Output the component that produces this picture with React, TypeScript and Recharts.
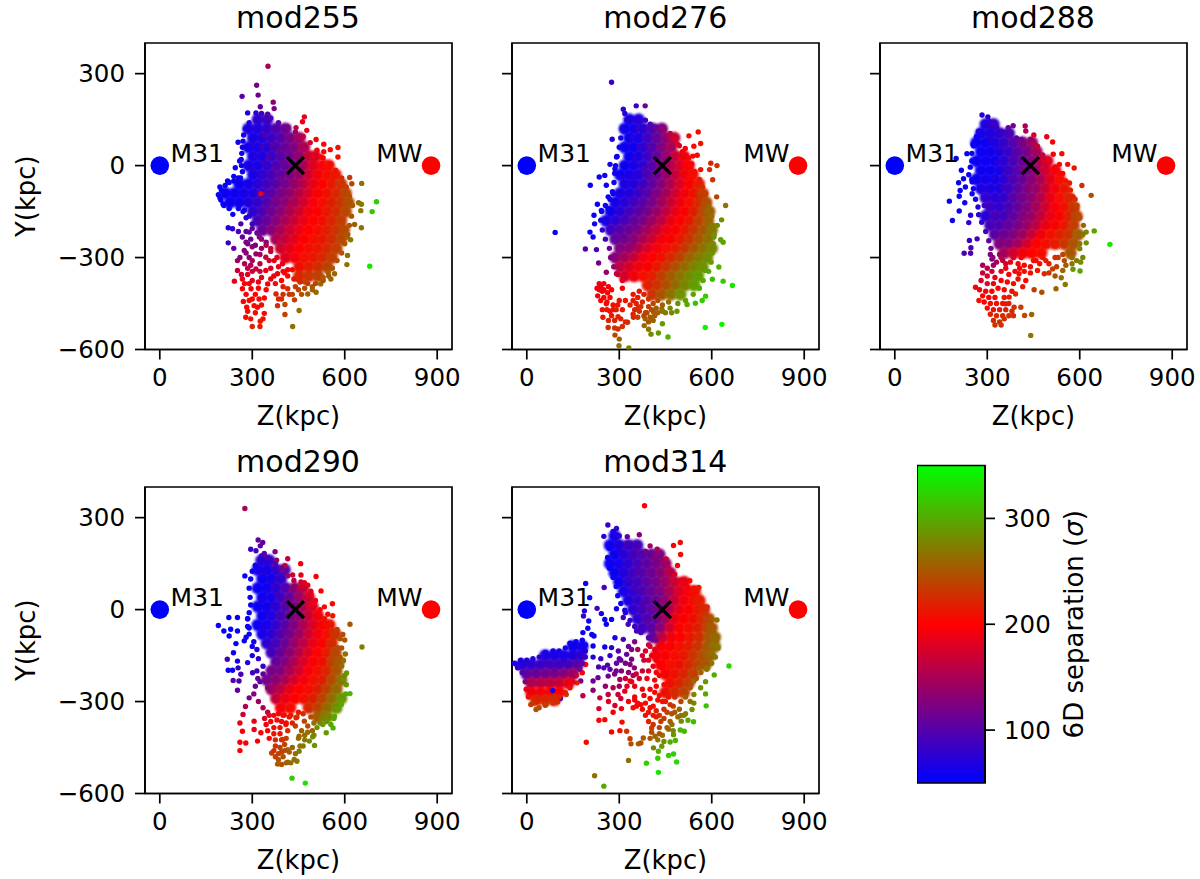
import { Label, ReferenceArea, Scatter, ScatterChart, XAxis, YAxis } from "recharts";

type Row = number[];

const xTicks = [0, 300, 600, 900];
const yTicks = [300, 0, -300, -600];
const sepTicks = [100, 200, 300];
const sepRange = [{ x: 0, sep: 50 }, { x: 1, sep: 350 }];

const m31 = [{ z: 0, y: 0 }];
const mw = [{ z: 880, y: 0 }];
const midpoint = [{ z: 440, y: 0 }];
const m31Label = [{ z: 35, y: 11, text: "M31" }];
const mwLabel = [{ z: 702, y: 11, text: "MW" }];

// dense middle of each cloud, [z, y, separation]
const mod255Core: Row[] = [
  [318,150,75],[348,150,85],
  [288,120,66],[318,120,70],[348,120,80],[378,120,95],[408,120,112],
  [303,90,64],[333,90,70],[363,90,84],[393,90,100],[423,90,120],[453,90,145],
  [288,60,62],[318,60,65],[348,60,76],[378,60,92],[408,60,108],[438,60,125],[468,60,150],
  [303,30,62],[333,30,68],[363,30,82],[393,30,100],[423,30,115],[453,30,135],[483,30,165],[505,30,180],
  [288,0,62],[318,0,65],[348,0,78],[378,0,92],[408,0,108],[438,0,125],[468,0,150],[498,0,180],[528,0,195],[548,0,205],
  [303,-30,64],[333,-30,72],[363,-30,88],[393,-30,105],[423,-30,120],[453,-30,140],[483,-30,170],[513,-30,192],[543,-30,205],[570,-30,212],
  [258,-60,58],[288,-60,62],[318,-60,70],[348,-60,85],[378,-60,102],[408,-60,118],[438,-60,135],[468,-60,160],[498,-60,185],[528,-60,200],[558,-60,212],[588,-60,228],
  [213,-90,58],[243,-90,58],[273,-90,62],[303,-90,70],[333,-90,84],[363,-90,100],[393,-90,118],[423,-90,135],[453,-90,155],[483,-90,178],[513,-90,197],[543,-90,208],[573,-90,222],[603,-90,240],
  [228,-120,58],[258,-120,60],[288,-120,68],[318,-120,80],[348,-120,96],[378,-120,115],[408,-120,132],[438,-120,150],[468,-120,172],[498,-120,195],[528,-120,205],[558,-120,218],[588,-120,232],[612,-120,245],
  [303,-150,76],[333,-150,92],[363,-150,112],[393,-150,130],[423,-150,150],[453,-150,170],[483,-150,192],[513,-150,202],[543,-150,212],[573,-150,226],[603,-150,242],
  [318,-180,92],[348,-180,108],[378,-180,128],[408,-180,148],[438,-180,168],[468,-180,188],[498,-180,200],[528,-180,208],[558,-180,220],[588,-180,234],
  [333,-210,108],[363,-210,128],[393,-210,148],[423,-210,168],[453,-210,188],[483,-210,200],[513,-210,206],[543,-210,216],[573,-210,230],[597,-210,242],
  [378,-240,150],[408,-240,165],[438,-240,183],[468,-240,198],[498,-240,204],[528,-240,214],[558,-240,226],[588,-240,240],
  [393,-270,170],[423,-270,183],[453,-270,198],[483,-270,205],[513,-270,212],[543,-270,222],[573,-270,236],
  [408,-300,182],[438,-300,195],[468,-300,204],[498,-300,212],[528,-300,222],[558,-300,236],
  [453,-330,208],[483,-330,215],[513,-330,225],[543,-330,238],
  [453,-360,222],[483,-360,228],[513,-360,238],
];

const mod255Stars: Row[] = [
  [351,324,150],[314,262,120],[319,230,115],[267,226,100],[368,207,130],[371,186,125],[326,192,110],[285,172,65],[312,172,80],[350,168,100],
  [469,159,185],[463,143,185],[442,124,165],[477,115,185],[507,85,195],[532,70,200],[553,52,205],[578,59,210],[578,28,210],[532,45,200],[524,28,200],
  [254,76,58],[259,15,60],[245,-7,55],[616,-39,235],[623,-59,240],[655,-58,265],[645,-121,265],[654,-126,270],[703,-118,320],[689,-150,315],[652,-147,270],
  [632,-192,255],[654,-203,265],[619,-242,270],[608,-233,260],[609,-293,265],[607,-323,265],[681,-328,335],[222,-203,70],[236,-206,75],[222,-252,85],[237,-159,55],[208,-130,55],
  [242,-377,185],[268,-370,190],[271,-443,195],[282,-462,200],[279,-495,205],[300,-525,220],[325,-525,215],[326,-508,215],[306,-457,205],[322,-435,205],[339,-432,200],[317,-462,205],[339,-482,205],
  [377,-419,220],[382,-457,225],[406,-453,240],[406,-486,235],[431,-525,265],[452,-473,265],[415,-402,225],[437,-438,235],[480,-419,255],[507,-413,260],[522,-386,260],[546,-348,255],[567,-353,260],
  [268,-402,200],[296,-402,195],[350,-386,195],[252,-310,140],[252,-342,165],[312,-337,165],[312,-288,140],[274,-277,130],[268,-233,110],[290,-217,110],[263,-190,100],[323,-233,125],[344,-299,170],[344,-342,185],[371,-310,185],[382,-353,190],
  [280,-250,120],[300,-265,128],[290,-300,135],[330,-270,140],[345,-250,135],[275,-320,150],[300,-310,150],[360,-270,165],[405,-350,205],[430,-340,205],[470,-380,240],[495,-395,250],[445,-370,225],
  [195,-70,55],[190,-95,55],[198,-112,55],[220,-50,55],[240,-35,55],[255,-40,60],[270,-150,62],[280,-170,75],[300,-190,85],
  [290,140,70],[278,120,66],[272,100,62],[270,80,60],[268,60,60],[266,40,60],[264,20,60],[265,0,60],[268,-20,60],[262,-40,58],[240,-50,58],[225,-55,56],[212,-65,56],[200,-80,56],[195,-105,55],[205,-125,55],[225,-140,55],[255,-140,58],[275,-145,65],[290,-165,72],
  [330,170,85],[360,155,95],[385,140,105],[415,125,125],[440,110,140],[465,95,160],[488,75,175],[510,50,190],[530,25,198],[555,5,208],[570,-15,212],[590,-40,225],[605,-70,235],[615,-100,245],[625,-130,250],[622,-165,250],[615,-195,248],[610,-225,250],[600,-255,250],[590,-285,250],[575,-310,245],[560,-335,250],[548,-360,250],[530,-375,245],[505,-385,240],[480,-385,232],[455,-380,222],[435,-370,215],
  [415,-340,195],[398,-320,190],[380,-300,178],[360,-280,165],[345,-260,150],[330,-240,135],[315,-220,115],[300,-205,105],
  [285,-355,175],[300,-345,170],[330,-365,185],[360,-370,190],[395,-375,200],[275,-385,195],[290,-385,195],[320,-400,200],[345,-405,200],[290,-440,205],[310,-480,205],[330,-455,205],[395,-435,225],[420,-420,230],[450,-405,240],[470,-400,245],[495,-405,255],[530,-365,255],[555,-370,260],[240,-270,105],[260,-300,130],[285,-255,120],[255,-215,95],
  [340,100,95],[365,70,105],[330,60,85],[355,30,95],[385,50,110],[340,10,85],[370,-10,105],[400,10,115],[330,-30,85],[360,-50,100],[395,-40,118],[345,-90,100],[375,-110,125],[405,-85,130],[430,-50,140],[320,-60,80],[300,-10,75],[310,30,75],[300,70,75],[350,-140,115],[420,-130,155],[455,-60,150],[460,-10,140],[415,50,120],[445,35,135],[328,-92,185],
  [280,-215,105],[295,-240,115],[310,-260,125],[325,-290,145],[280,-285,130],[295,-325,150],[325,-320,160],[355,-310,175],[360,-335,180],[325,-345,170],[285,-335,160],[265,-355,170],[300,-375,185],[320,-380,190],[370,-360,190],[385,-330,185],[400,-345,200],[415,-360,205],[375,-385,205],[400,-395,215],[280,-420,195],[300,-435,205],[310,-420,200],[285,-475,205],[295,-500,210],[335,-500,210],[385,-435,225],[400,-420,228],[440,-395,235],[460,-420,245],[430,-420,240],
];

const mod276Core: Row[] = [
  [333,150,62],[363,150,72],
  [318,120,60],[348,120,64],[378,120,76],[408,120,95],[438,120,125],
  [333,90,60],[363,90,66],[393,90,85],[423,90,108],[453,90,135],[478,90,165],
  [318,60,58],[348,60,60],[378,60,74],[408,60,95],[438,60,118],[468,60,148],
  [333,30,60],[363,30,66],[393,30,85],[423,30,108],[453,30,135],[483,30,165],[510,30,190],
  [318,0,60],[348,0,62],[378,0,76],[408,0,98],[438,0,125],[468,0,150],[498,0,178],[525,0,198],
  [303,-30,60],[333,-30,62],[363,-30,70],[393,-30,90],[423,-30,112],[453,-30,138],[483,-30,165],[513,-30,190],[538,-30,205],
  [318,-60,64],[348,-60,68],[378,-60,84],[408,-60,105],[438,-60,128],[468,-60,152],[498,-60,178],[528,-60,198],[558,-60,215],
  [303,-90,66],[333,-90,70],[363,-90,82],[393,-90,100],[423,-90,122],[453,-90,145],[483,-90,172],[513,-90,195],[543,-90,210],[570,-90,235],
  [288,-120,62],[318,-120,72],[348,-120,85],[378,-120,100],[408,-120,118],[438,-120,140],[468,-120,165],[498,-120,190],[528,-120,205],[558,-120,225],[582,-120,245],
  [273,-150,60],[303,-150,72],[333,-150,88],[363,-150,102],[393,-150,118],[423,-150,138],[453,-150,160],[483,-150,185],[513,-150,202],[543,-150,218],[573,-150,240],[592,-150,255],
  [258,-180,65],[288,-180,76],[318,-180,92],[348,-180,106],[378,-180,120],[408,-180,140],[438,-180,160],[468,-180,185],[498,-180,200],[528,-180,214],[558,-180,235],[588,-180,255],
  [273,-210,85],[303,-210,100],[333,-210,112],[363,-210,125],[393,-210,145],[423,-210,165],[453,-210,188],[483,-210,202],[513,-210,212],[543,-210,232],[573,-210,250],[600,-210,268],
  [288,-240,105],[318,-240,115],[348,-240,128],[378,-240,148],[408,-240,170],[438,-240,192],[468,-240,203],[498,-240,212],[528,-240,230],[558,-240,248],[588,-240,265],
  [303,-270,125],[333,-270,135],[363,-270,155],[393,-270,178],[423,-270,196],[453,-270,204],[483,-270,215],[513,-270,232],[543,-270,250],[573,-270,265],[600,-270,278],
  [288,-300,130],[318,-300,145],[348,-300,165],[378,-300,188],[408,-300,200],[438,-300,208],[468,-300,222],[498,-300,238],[528,-300,255],[558,-300,270],[585,-300,282],
  [303,-330,160],[333,-330,175],[363,-330,192],[393,-330,203],[423,-330,212],[453,-330,228],[483,-330,245],[513,-330,262],[543,-330,275],[570,-330,285],
  [318,-360,175],[348,-360,192],[378,-360,205],[408,-360,216],[438,-360,235],[468,-360,252],[498,-360,268],[528,-360,280],[555,-360,292],
  [393,-390,215],[423,-390,228],[453,-390,245],[483,-390,262],[513,-390,278],[543,-390,292],
  [408,-420,228],[438,-420,248],[468,-420,265],[498,-420,285],
];

const mod276Stars: Row[] = [
  [275,272,85],[355,195,85],[384,195,115],[313,184,78],[318,170,70],[277,86,70],[291,28,60],[270,4,62],[286,-10,60],[235,-37,62],[253,-32,60],[206,-64,55],[258,-64,58],[264,-102,58],[280,-92,58],
  [229,-126,55],[242,-146,55],[264,-141,60],[218,-162,55],[220,-190,60],[205,-217,54],[215,-233,58],[92,-218,60],[190,-272,100],[226,-274,90],[233,-318,120],[258,-348,140],[291,-353,160],
  [526,97,205],[556,110,205],[564,72,210],[542,63,205],[514,56,195],[490,69,180],[476,94,170],[553,34,205],[539,31,205],[564,-13,210],[542,-19,205],[597,8,220],[617,0,230],[593,-13,225],[603,-46,230],
  [580,-92,230],[616,-102,240],[583,-116,245],[645,-130,265],[589,-144,260],[585,-159,255],[632,-177,285],[618,-195,280],[607,-233,285],[629,-242,295],[637,-250,295],[600,-260,280],[623,-331,305],
  [580,-342,290],[602,-371,310],[637,-377,320],[667,-391,335],[580,-426,320],[547,-449,315],[569,-440,320],[520,-453,300],[579,-528,345],[633,-518,345],
  [440,-516,290],[403,-550,280],[427,-546,290],[458,-559,305],[395,-534,270],[384,-500,260],[381,-522,260],[411,-478,255],[438,-468,270],[487,-475,290],[286,-553,240],[300,-566,255],[299,-588,265],[331,-595,275],
  [296,-533,230],[264,-528,225],[327,-511,225],[346,-495,225],[247,-495,215],[275,-490,215],[296,-493,220],[258,-451,210],[362,-462,225],[280,-470,212],[240,-440,205],[235,-405,195],[310,-400,195],[320,-440,212],[390,-480,245],
  [325,148,70],[345,152,70],[365,150,72],[385,148,85],[400,135,95],[420,125,110],[445,118,140],[465,105,160],[480,85,175],[495,65,180],[505,45,190],[525,25,198],[535,5,205],[545,-20,208],[560,-45,215],[570,-70,225],[578,-95,235],[590,-130,255],[600,-165,265],[605,-195,275],[608,-225,285],[605,-255,285],[602,-285,285],[598,-315,290],[590,-345,300],[572,-375,300],[560,-400,300],[540,-420,295],[515,-440,295],[490,-450,285],[465,-465,280],[440,-475,265],[415,-490,255],[385,-480,240],
  [310,120,65],[305,90,62],[300,60,60],[293,30,58],[288,0,58],[285,-25,58],[283,-55,60],[278,-85,60],[270,-110,60],[255,-130,58],[243,-150,58],[240,-178,62],[245,-210,75],[255,-240,90],[268,-270,110],[272,-300,125],[282,-330,145],[295,-355,165],[310,-375,180],
  [235,-385,190],[250,-385,192],[265,-395,195],[228,-400,192],[245,-410,198],[262,-415,200],[230,-425,195],[250,-430,202],[270,-430,205],[260,-445,205],[280,-455,208],[245,-470,210],[270,-475,212],[290,-470,215],[300,-440,210],[285,-505,218],[345,-420,210],[365,-410,212],[345,-440,215],[360,-430,215],[375,-445,222],[335,-455,218],[350,-470,222],[380,-420,218],[395,-435,230],[410,-450,240],[425,-440,245],[440,-455,255],[460,-445,265],[395,-460,235],[345,-485,222],[365,-475,228],
  [340,90,75],[365,60,85],[350,20,75],[380,-10,95],[345,-40,75],[370,-80,95],[400,-40,105],[420,20,120],[400,60,105],[440,60,130],[340,-110,90],[375,-140,110],[410,-100,125],[320,-170,85],[355,-200,118],[395,-190,140],[310,-230,112],[345,-260,135],[440,-110,150],[330,-60,75],[310,-40,72],[360,120,80],
  [250,-405,195],[275,-405,198],[240,-395,190],[260,-470,210],[295,-455,212],[310,-470,215],[305,-500,220],[320,-510,222],[265,-505,220],[285,-530,228],[310,-525,225],[355,-450,220],[370,-460,228],[380,-490,240],[360,-495,235],[405,-470,245],[420,-465,250],[425,-480,255],[450,-480,272],[470,-480,280],[395,-510,250],[410,-505,258],[400,-495,250],
];

const mod288Core: Row[] = [
  [295,135,70],[320,135,80],
  [280,105,62],[310,105,68],[340,105,76],[370,105,90],
  [265,75,58],[295,75,60],[325,75,68],[355,75,82],[385,75,98],[415,75,118],[445,75,145],
  [280,45,55],[310,45,58],[340,45,68],[370,45,84],[400,45,100],[430,45,120],[460,45,145],
  [265,15,58],[295,15,56],[325,15,60],[355,15,76],[385,15,92],[415,15,110],[445,15,128],[475,15,155],[495,15,180],
  [280,-15,60],[310,-15,58],[340,-15,66],[370,-15,84],[400,-15,100],[430,-15,118],[460,-15,140],[490,-15,170],[520,-15,195],
  [265,-45,60],[295,-45,62],[325,-45,60],[355,-45,76],[385,-45,92],[415,-45,110],[445,-45,128],[475,-45,150],[505,-45,182],[535,-45,205],
  [280,-75,65],[310,-75,66],[340,-75,68],[370,-75,86],[400,-75,104],[430,-75,122],[460,-75,140],[490,-75,165],[520,-75,195],[550,-75,212],
  [295,-105,78],[325,-105,72],[355,-105,80],[385,-105,98],[415,-105,115],[445,-105,132],[475,-105,155],[505,-105,185],[535,-105,205],[565,-105,222],
  [310,-135,85],[340,-135,78],[370,-135,90],[400,-135,108],[430,-135,125],[460,-135,145],[490,-135,172],[520,-135,195],[550,-135,205],[580,-135,232],
  [295,-165,75],[325,-165,85],[355,-165,88],[385,-165,105],[415,-165,122],[445,-165,140],[475,-165,162],[505,-165,188],[535,-165,203],[565,-165,220],[590,-165,240],
  [310,-195,90],[340,-195,96],[370,-195,105],[400,-195,120],[430,-195,138],[460,-195,160],[490,-195,185],[520,-195,203],[550,-195,212],[580,-195,235],
  [325,-225,102],[355,-225,112],[385,-225,122],[415,-225,140],[445,-225,165],[475,-225,190],[505,-225,205],[535,-225,215],[565,-225,230],[595,-225,255],
  [340,-255,125],[370,-255,128],[400,-255,145],[430,-255,172],[460,-255,198],[490,-255,206],[520,-255,215],[550,-255,228],[580,-255,248],
  [355,-285,145],[385,-285,168],[415,-285,190],[445,-285,200],[475,-285,205],[570,-285,250],
];

const mod288Stars: Row[] = [
  [283,165,72],[302,159,72],[307,143,78],[322,137,85],[272,112,68],[368,124,105],[384,130,115],[423,129,150],[425,113,150],[451,100,175],[493,94,190],[512,77,195],[463,63,170],[514,37,195],[542,39,205],
  [534,4,200],[561,4,210],[582,-8,215],[545,-26,205],[567,-57,215],[607,-65,225],[578,-102,215],[637,-97,245],[591,-130,240],[647,-213,295],[621,-217,280],[621,-252,285],[698,-257,335],[600,-271,275],
  [603,-315,285],[601,-344,295],[578,-338,290],[540,-366,265],[553,-388,270],[523,-402,255],[477,-413,245],[452,-405,235],[485,-353,225],[463,-342,215],[512,-337,235],[545,-342,260],[444,-486,260],
  [421,-489,245],[409,-462,235],[387,-462,230],[441,-554,270],
  [199,23,60],[234,39,56],[216,-15,55],[223,-43,55],[207,-56,55],[212,-81,55],[251,-53,60],[229,-70,58],[209,-100,55],[251,-92,60],[227,-121,58],[177,-116,55],[209,-148,57],[187,-179,58],[246,-162,70],
  [240,-186,75],[242,-244,85],[267,-239,90],[247,-268,90],[225,-286,95],[246,-286,95],[254,70,55],[262,-397,195],[273,-440,205],[436,-288,200],[458,-310,205],[403,-353,205],[425,-375,205],[392,-419,225],
  [371,-429,220],[360,-451,215],[490,-310,215],[469,-288,205],[520,-300,225],[550,-310,245],[575,-320,270],
  [330,125,85],[350,110,85],[375,100,95],[395,90,105],[410,85,115],[440,85,140],[458,65,160],[480,35,165],[500,15,185],[520,-5,195],[535,-25,205],[555,-50,212],[570,-80,218],[585,-110,225],[590,-140,235],[600,-170,245],[612,-195,260],[610,-225,265],[600,-255,270],
  [265,95,58],[255,65,55],[250,40,55],[250,15,55],[245,-5,55],[240,-30,55],[250,-45,58],[255,-75,60],[262,-110,62],[270,-135,68],[272,-160,72],[282,-185,78],[295,-215,90],[305,-245,105],[312,-270,115],[318,-300,125],
  [315,-305,130],[330,-315,150],[350,-310,165],[375,-315,185],[400,-320,198],[420,-325,205],[440,-330,205],[340,-290,140],[450,-310,205],[410,-300,195],[385,-300,178],[500,-320,215],[525,-330,235],[555,-325,250],[575,-300,260],[590,-310,270],[610,-300,280],
  [285,-325,150],[300,-335,160],[315,-345,175],[285,-350,165],[300,-360,175],[325,-365,185],[345,-345,190],[360,-335,192],[370,-355,195],[390,-345,200],[280,-375,175],[300,-385,185],[320,-385,190],[345,-375,195],[365,-380,200],[385,-385,205],[400,-370,205],[415,-395,215],[275,-405,190],[295,-410,195],[315,-410,200],[335,-400,200],[355,-405,205],[380,-410,210],[285,-425,198],[305,-430,200],[325,-430,205],[355,-430,212],[290,-445,200],[310,-450,205],[330,-450,210],[350,-450,212],[370,-450,215],[300,-465,205],[320,-470,212],[340,-470,215],[360,-470,218],[380,-475,222],[310,-485,218],[330,-490,222],[350,-490,225],[370,-490,225],[320,-505,225],[340,-510,228],[355,-500,228],[325,-520,230],[345,-520,230],[385,-490,228],
  [310,90,72],[340,60,80],[300,40,65],[330,10,72],[360,-10,85],[390,30,100],[420,60,125],[320,-40,72],[350,-70,85],[380,-40,100],[410,-10,118],[340,-110,82],[370,-150,100],[400,-100,118],[440,-60,135],[330,-160,95],[360,-190,110],[420,-170,135],[350,-240,125],[390,-220,130],[450,-130,150],[300,-80,75],[290,-130,85],
  [310,-290,125],[320,-325,145],[360,-320,175],[345,-300,155],[470,-320,210],[480,-300,210],[440,-350,210],[420,-345,205],[405,-335,200],[530,-300,230],[545,-290,240],[520,-360,250],[500,-350,230],
];

const mod290Core: Row[] = [
  [330,160,72],[355,160,78],
  [318,130,62],[348,130,62],[378,130,78],[405,130,105],
  [333,100,58],[363,100,60],[393,100,80],
  [318,70,58],[348,70,58],[378,70,75],[408,70,95],[438,70,130],[465,70,165],
  [333,40,58],[363,40,62],[393,40,85],[423,40,108],[453,40,140],[483,40,170],
  [318,10,60],[348,10,60],[378,10,76],[408,10,100],[438,10,125],[468,10,155],[495,10,180],
  [333,-20,58],[363,-20,65],[393,-20,88],[423,-20,110],[453,-20,135],[483,-20,165],[513,-20,190],
  [318,-50,58],[348,-50,62],[378,-50,78],[408,-50,102],[438,-50,125],[468,-50,150],[498,-50,178],[528,-50,198],[550,-50,210],
  [333,-80,62],[363,-80,72],[393,-80,95],[423,-80,118],[453,-80,140],[483,-80,168],[513,-80,192],[543,-80,205],[570,-80,230],
  [348,-110,76],[378,-110,90],[408,-110,112],[438,-110,135],[468,-110,160],[498,-110,185],[528,-110,202],[558,-110,225],
  [363,-140,88],[393,-140,108],[423,-140,130],[453,-140,155],[483,-140,180],[513,-140,200],[543,-140,215],[570,-140,240],
  [378,-170,105],[408,-170,125],[438,-170,150],[468,-170,178],[498,-170,198],[528,-170,210],[558,-170,235],[580,-170,250],
  [363,-200,118],[393,-200,125],[423,-200,148],[453,-200,172],[483,-200,195],[513,-200,205],[543,-200,222],[573,-200,248],
  [348,-230,118],[378,-230,130],[408,-230,150],[438,-230,175],[468,-230,195],[498,-230,205],[528,-230,218],[558,-230,242],[588,-230,265],
  [363,-260,140],[393,-260,160],[423,-260,185],[453,-260,200],[483,-260,206],[513,-260,218],[543,-260,238],[573,-260,262],
  [378,-290,165],[408,-290,188],[438,-290,202],[468,-290,205],[498,-290,218],[528,-290,238],[558,-290,262],[588,-290,285],
  [393,-320,195],[423,-320,205],[483,-320,222],[513,-320,238],[543,-320,260],[573,-320,282],
  [513,-350,252],[543,-350,278],
];

const mod290Stars: Row[] = [
  [276,330,150],[319,227,110],[334,219,105],[326,208,105],[295,197,85],[312,192,88],[339,183,100],[374,189,125],[379,161,135],[415,166,165],[406,143,155],[457,150,190],[276,110,55],[431,113,170],[458,113,185],
  [507,108,195],[469,88,185],[523,61,200],[491,50,185],[502,23,195],[560,19,205],[534,9,205],[513,-10,195],[545,-15,205],[561,-20,215],[617,-48,250],[556,-64,225],[594,-81,245],[570,-86,230],[600,-99,250],
  [656,-122,275],[602,-145,265],[578,-124,245],[596,-166,265],[606,-207,290],[594,-225,285],[617,-274,310],[589,-310,300],[567,-348,300],[562,-386,305],[540,-402,290],[529,-375,290],
  [190,-52,55],[224,-26,54],[252,-26,55],[208,-70,52],[230,-64,52],[252,-70,52],[225,-86,52],[247,-111,52],[274,-102,55],[239,-141,58],[252,-168,60],[219,-162,85],[222,-198,55],[236,-198,55],[254,-190,80],
  [238,-231,105],[257,-233,95],[263,-211,90],[285,-173,70],[301,-206,85],[252,-263,105],[290,-288,120],[278,-316,150],[270,-342,170],[260,-370,190],[268,-397,195],[260,-433,195],[279,-435,195],[260,-460,195],
  [306,-364,185],[306,-391,190],[328,-402,195],[317,-429,200],[429,-550,320],[472,-566,335],[415,-498,265],[382,-504,255],[436,-489,270],[452,-462,275],[415,-457,265],[363,-468,235],[502,-443,290],
  [485,-429,280],[496,-415,285],[452,-413,260],[399,-424,235],[409,-375,220],[404,-344,215],[442,-353,225],[469,-364,240],[285,-30,55],[290,-60,55],[280,-90,55],[300,-120,60],[300,-150,65],[315,-200,85],[325,-235,105],
  [310,145,60],[300,125,58],[295,100,56],[290,70,56],[293,40,56],[295,15,56],[290,-10,56],[285,-30,56],[285,-55,56],[290,-80,56],[305,-105,60],[315,-130,68],[320,-160,78],[335,-185,85],[335,-210,105],[318,-225,110],[310,-250,115],[305,-275,125],[320,-300,140],[335,-320,150],[350,-335,165],
  [330,175,85],[350,170,88],[375,150,100],[395,135,115],[415,110,140],[435,95,155],[458,90,175],[480,80,185],[490,60,185],[505,30,190],[520,0,198],[535,-30,205],[555,-45,212],[575,-65,232],[585,-95,245],[590,-125,250],[585,-155,250],[590,-185,262],[600,-215,280],[605,-245,290],[603,-275,295],[590,-295,295],[575,-325,295],[565,-355,298],
  [370,-345,195],[385,-340,200],[360,-365,200],[380,-360,205],[395,-365,205],[370,-385,205],[390,-385,208],[410,-370,205],[350,-395,198],[370,-405,210],[390,-405,212],[355,-420,205],[375,-425,220],[395,-425,228],[410,-420,235],[375,-445,230],[390,-450,235],[370,-460,230],[385,-470,240],[400,-480,245],[385,-490,245],[410,-500,255],[425,-500,262],[445,-495,270],[455,-445,270],[430,-450,260],[465,-445,270],[440,-380,240],[460,-395,250],[480,-380,245],[495,-395,255],[445,-350,225],[465,-340,225],[490,-350,245],[510,-345,255],[530,-340,270],[540,-365,285],[555,-375,298],[520,-370,280],[500,-370,265],[525,-355,275],[470,-410,265],
  [340,120,72],[365,90,75],[345,60,70],[330,30,68],[365,20,75],[380,50,88],[350,-10,72],[385,-20,92],[410,30,110],[335,-60,70],[370,-80,85],[405,-70,110],[360,-120,90],[400,-130,118],[430,-20,125],[380,-170,115],[420,-180,145],[375,-240,140],[350,-255,130],[440,-100,145],
  [355,-345,185],[345,-375,190],[340,-355,180],[400,-345,205],[420,-350,210],[430,-370,220],[415,-395,225],[405,-440,240],[395,-465,238],[420,-465,250],[440,-470,265],[405,-460,245],[375,-480,240],[395,-505,248],[450,-420,260],[470,-425,270],[480,-400,265],[500,-410,280],[510,-385,285],[450,-335,215],[425,-345,215],[420,-320,205],
];

const mod314Core: Row[] = [
  [285,240,62],
  [270,210,58],[300,210,68],[330,210,82],[358,210,90],
  [285,180,60],[315,180,72],[345,180,85],[375,180,98],[405,180,110],[430,180,125],
  [270,150,56],[300,150,62],[330,150,76],[360,150,90],[390,150,105],[420,150,118],[450,150,138],
  [285,120,58],[315,120,68],[345,120,85],[375,120,100],[405,120,112],[435,120,130],[465,120,155],
  [300,90,60],[330,90,75],[360,90,90],[390,90,105],[420,90,118],[450,90,140],[480,90,168],[510,90,185],
  [315,60,62],[345,60,78],[375,60,92],[405,60,108],[435,60,125],[465,60,150],[495,60,180],[525,60,195],[545,60,205],
  [330,30,68],[360,30,82],[390,30,98],[420,30,112],[450,30,132],[480,30,165],[510,30,192],[540,30,205],[560,30,215],
  [345,0,75],[375,0,90],[405,0,104],[435,0,120],[465,0,150],[495,0,185],[525,0,202],[555,0,212],[575,0,222],
  [360,-30,80],[390,-30,95],[420,-30,110],[450,-30,145],[480,-30,185],[510,-30,202],[540,-30,210],[570,-30,222],[590,-30,240],
  [375,-60,85],[405,-60,100],[435,-60,130],[465,-60,170],[495,-60,198],[525,-60,208],[555,-60,218],[585,-60,238],[600,-60,250],
  [410,-90,110],[440,-90,160],[470,-90,190],[500,-90,202],[530,-90,212],[560,-90,225],[590,-90,248],[610,-90,260],
  [435,-120,190],[465,-120,198],[495,-120,204],[525,-120,215],[555,-120,230],[585,-120,250],[610,-120,265],
  [420,-150,192],[450,-150,198],[480,-150,205],[510,-150,214],[540,-150,228],[570,-150,245],[595,-150,258],
  [435,-180,198],[465,-180,204],[495,-180,210],[525,-180,222],[555,-180,238],[580,-180,250],
  [450,-210,202],[480,-210,208],[510,-210,220],[540,-210,235],
  [465,-240,208],[495,-240,220],[525,-240,235],
  [450,-270,210],[480,-270,222],[510,-270,238],
  [150,-120,60],[180,-120,58],
  [60,-150,68],[90,-150,66],[120,-150,65],[150,-150,68],[175,-150,75],
  [-15,-180,72],[15,-180,75],[45,-180,82],[75,-180,85],[105,-180,85],[135,-180,90],[165,-180,100],
  [0,-210,105],[30,-210,110],[60,-210,115],[90,-210,118],[120,-210,125],[150,-210,140],
  [15,-240,150],[45,-240,155],[75,-240,160],[105,-240,165],[135,-240,185],
  [15,-270,190],[45,-270,195],[75,-270,198],[105,-270,200],
  [30,-295,220],[60,-295,222],[90,-295,225],
];

const mod314Stars: Row[] = [
  [382,339,200],[263,276,85],[291,265,80],[250,239,75],[326,238,105],[365,244,130],[400,208,145],[423,197,150],[476,209,200],[498,219,205],[499,180,205],[489,144,200],[452,165,165],[529,94,200],[558,72,215],
  [542,70,210],[585,9,225],[558,34,215],[602,-32,260],[617,-34,265],[591,-53,250],[613,-97,260],[602,-146,265],[656,-184,325],[608,-213,300],[584,-195,270],[558,-190,255],[542,-233,265],[580,-235,290],
  [564,-255,285],[580,-275,300],[542,-277,280],[542,-305,280],[582,-314,315],[536,-326,285],[515,-340,280],[523,-361,300],[541,-366,310],[501,-364,285],[498,-393,305],[511,-397,310],[471,-375,265],
  [476,-408,290],[482,-427,305],[465,-432,300],[438,-446,290],[411,-451,275],[427,-462,300],[460,-476,320],[476,-471,320],[486,-497,330],[425,-485,320],[388,-501,320],[330,-492,265],[427,-531,335],
  [220,-542,265],[250,-576,300],[193,-433,205],[362,-438,255],[338,-438,245],[378,-419,250],[335,-421,235],[324,-397,230],[302,-395,205],[275,-399,195],[309,-367,205],[253,-359,200],[234,-361,200],
  [280,-335,195],[234,-323,175],[286,-313,175],[307,-323,190],[356,-315,205],[405,-386,235],[416,-413,260],[237,-288,165],[264,-277,165],[296,-277,170],[318,-266,185],[335,-233,195],[302,-228,150],
  [264,-217,115],[231,-222,115],[215,-233,115],[233,-187,95],[262,-181,100],[291,-175,105],[307,-200,130],[335,-179,125],[349,-190,135],[324,-146,110],[340,-162,120],[297,-135,100],[313,-97,90],[340,-130,130],
  [275,-124,72],[253,-122,60],[286,-92,65],[215,-155,70],[180,-206,195],[182,-281,160],[175,-233,120],[215,-263,130],[191,85,55],[251,72,95],[204,39,55],[187,-4,65],[184,-21,85],[201,-37,58],[228,4,90],
  [242,-13,58],[253,-32,55],[275,-32,55],[258,-48,55],[198,-61,55],[182,-75,58],[211,-81,55],[218,-86,58],[215,-119,55],[291,3,60],[318,-2,65],[313,-26,90],[329,-48,95],[356,-70,90],
  [-34,-179,65],[84,-264,70],[109,-290,95],[163,-239,215],[191,-179,195],[128,-277,235],[30,-326,250],[13,-310,235],[62,-310,235],[100,-301,225],
  [268,200,56],[262,170,55],[268,135,56],[280,105,56],[290,75,55],[295,45,56],[305,20,58],[320,-10,65],[335,-35,78],[350,-55,82],[370,-75,90],[395,-92,100],[420,-100,125],
  [280,255,65],[300,240,75],[325,215,95],[355,195,100],[385,190,115],[415,170,125],[440,160,140],[460,135,160],[480,115,175],[500,95,185],[520,75,195],[540,50,205],[555,30,215],[570,10,222],[580,-15,232],[595,-40,245],[605,-70,255],[615,-100,262],[620,-125,268],[612,-155,268],[600,-175,270],[585,-190,268],[565,-205,255],[550,-225,250],[530,-255,250],[515,-285,255],[530,-300,265],
  [395,-115,170],[415,-130,185],[385,-135,175],[405,-150,190],[395,-165,185],[420,-165,195],[375,-150,170],[360,-130,150],[440,-190,200],[430,-215,198],[445,-245,205],[420,-250,195],[460,-285,212],[480,-285,225],[500,-300,240],[475,-315,235],[450,-300,215],[425,-295,205],[400,-290,200],[410,-315,205],[385,-305,205],[360,-305,205],[345,-320,205],[375,-325,205],[395,-335,212],[420,-330,215],[445,-325,225],[470,-340,245],[495,-325,255],[510,-345,275],[490,-350,265],[465,-365,255],[445,-355,235],[420,-350,220],[395,-365,218],[410,-375,228],[430,-385,240],[385,-345,208],[405,-400,245],[440,-410,265],[460,-390,265],[425,-425,270],
  [-40,-175,65],[-20,-165,68],[0,-165,70],[20,-160,72],[40,-155,72],[60,-140,65],[85,-135,62],[105,-135,62],[125,-125,62],[140,-110,58],[160,-105,58],[180,-100,58],[190,-115,60],[190,-135,70],[190,-155,85],[180,-175,105],[172,-195,125],[160,-215,160],[150,-235,190],[140,-255,205],[125,-270,215],[105,-285,220],[85,-305,228],[60,-312,235],[40,-320,245],[20,-305,230],[5,-285,210],[-2,-260,185],[-5,-235,130],[-15,-205,100],[-30,-190,80],
  [240,-160,85],[250,-190,95],[270,-150,80],[300,-160,105],[320,-175,120],[345,-215,150],[365,-225,175],[330,-205,130],[285,-210,125],[300,-250,145],[280,-255,155],[255,-250,135],[325,-250,175],[350,-250,185],[375,-260,195],[350,-285,195],[330,-300,195],
  [300,190,70],[340,170,90],[310,130,75],[360,130,100],[330,95,85],[395,120,115],[350,70,90],[390,60,110],[375,20,95],[420,60,125],[410,0,115],[390,-40,105],[440,30,135],[430,-30,125],[60,-175,90],[120,-165,75],[30,-200,110],[90,-195,110],
  [400,-120,175],[380,-165,170],[410,-185,190],[395,-200,180],[375,-200,165],[420,-205,195],[415,-230,195],[390,-225,190],[400,-260,200],[380,-280,200],[430,-280,208],[415,-270,200],[440,-300,212],[465,-310,230],[455,-335,235],[480,-335,250],[500,-345,265],[430,-345,225],[410,-345,215],[400,-320,205],[370,-310,205],[435,-365,235],[455,-385,255],[475,-395,280],[430,-405,250],[445,-430,280],[400,-420,250],[370,-435,245],[350,-295,190],[305,-290,170],[265,-300,180],[355,-210,165],[340,-235,185],[320,-225,165],[290,-200,120],[270,-195,100],[305,-165,110],[330,-120,115],[350,-105,125],
];

function sepColor(sep: number) {
  const t = (sep - 50) / 150;
  if (t <= 1) {
    return `rgb(${Math.round(255 * t)},0,${Math.round(255 * (1 - t))})`;
  }
  const u = t - 1;
  return `rgb(${Math.round(255 * (1 - u))},${Math.round(255 * u)},0)`;
}

const toPoints = (rows: Row[]) => rows.map(([z, y, sep]) => ({ z, y, sep }));

const fontFamily = "DejaVu Sans";
const tickStyle = { fill: "#000", fontSize: 24.5, fontFamily };

function coreDot(p: any) {
  return <circle cx={p.cx} cy={p.cy} r={6.3} fill={sepColor(p.payload.sep)} filter="url(#soften)" />;
}

function starDot(p: any) {
  return <circle cx={p.cx} cy={p.cy} r={2.7} fill={sepColor(p.payload.sep)} />;
}

function plainMark(fill: string) {
  return (p: any) => <circle cx={p.cx} cy={p.cy} r={9.3} fill={fill} />;
}

function crossMark(p: any) {
  const s = 8.5;
  return (
    <path
      d={`M${p.cx - s},${p.cy - s}L${p.cx + s},${p.cy + s}M${p.cx - s},${p.cy + s}L${p.cx + s},${p.cy - s}`}
      stroke="#000"
      strokeWidth={3.4}
      fill="none"
    />
  );
}

function noteText(p: any) {
  return (
    <text x={p.cx} y={p.cy} fontSize={25} fontFamily={fontFamily} fill="#000">
      {p.payload.text}
    </text>
  );
}

function Panel({ title, left, top, core, stars, labelled }: { title: string; left: number; top: number; core: Row[]; stars: Row[]; labelled: boolean }) {
  return (
    <div style={{ position: "absolute", left: left - 135, top: top - 5 }}>
      <ScatterChart width={135 + 307 + 10} height={5 + 306.5 + 90} margin={{ top: 5, right: 10, bottom: 0, left: 0 }}>
        <XAxis
          type="number"
          dataKey="z"
          domain={[-48, 948]}
          ticks={xTicks}
          allowDataOverflow
          height={90}
          tick={tickStyle}
          tickSize={10}
          tickMargin={9}
          stroke="#000"
          strokeWidth={1.7}
        >
          <Label
            content={({ viewBox }: any) => (
              <text x={viewBox.x + viewBox.width / 2} y={viewBox.y + 75.5} textAnchor="middle" fontSize={25.8} fontFamily={fontFamily}>
                Z(kpc)
              </text>
            )}
          />
        </XAxis>
        <YAxis
          type="number"
          dataKey="y"
          domain={[-600, 400]}
          ticks={yTicks}
          allowDataOverflow
          width={135}
          tick={tickStyle}
          tickSize={10}
          tickMargin={10}
          tickFormatter={(v: number) => (labelled ? String(v).replace("-", "\u2212") : "")}
          stroke="#000"
          strokeWidth={1.7}
        >
          {labelled && (
            <Label
              content={({ viewBox }: any) => {
                const x = viewBox.x + viewBox.width - 110.5;
                const y = viewBox.y + viewBox.height / 2;
                return (
                  <text x={x} y={y} transform={`rotate(-90 ${x} ${y})`} textAnchor="middle" fontSize={25.8} fontFamily={fontFamily}>
                    Y(kpc)
                  </text>
                );
              }}
            />
          )}
        </YAxis>
        <ReferenceArea x1={-48} x2={948} y1={-600} y2={400} fill="none" stroke="#000" strokeWidth={1.7} ifOverflow="visible" />
        <Scatter data={toPoints(core)} shape={coreDot} isAnimationActive={false} />
        <Scatter data={toPoints(stars)} shape={starDot} isAnimationActive={false} />
        <Scatter data={m31} shape={plainMark("#0000ff")} isAnimationActive={false} />
        <Scatter data={mw} shape={plainMark("#ff0000")} isAnimationActive={false} />
        <Scatter data={midpoint} shape={crossMark} isAnimationActive={false} />
        <Scatter data={m31Label} shape={noteText} isAnimationActive={false} />
        <Scatter data={mwLabel} shape={noteText} isAnimationActive={false} />
      </ScatterChart>
      <div style={{ position: "absolute", left: 135, width: 307, top: -35.4, textAlign: "center", fontFamily, fontSize: 30, color: "#000", lineHeight: "30px" }}>
        {title}
      </div>
    </div>
  );
}

function SepColorbar() {
  return (
    <div style={{ position: "absolute", left: 917, top: 460 }}>
      <ScatterChart width={190} height={330} margin={{ top: 5.5, right: 0, bottom: 7, left: 0 }}>
        <defs>
          <linearGradient id="sepGradient" x1="0" y1="1" x2="0" y2="0">
            <stop offset="0%" stopColor="#0000ff" />
            <stop offset="50%" stopColor="#ff0000" />
            <stop offset="100%" stopColor="#00ff00" />
          </linearGradient>
        </defs>
        <XAxis type="number" dataKey="x" domain={[0, 1]} hide />
        <YAxis
          type="number"
          dataKey="sep"
          orientation="right"
          domain={[50, 350]}
          ticks={sepTicks}
          width={122}
          tick={tickStyle}
          tickSize={10}
          tickMargin={9}
          stroke="#000"
          strokeWidth={1.7}
        >
          <Label
            content={({ viewBox }: any) => {
              const x = viewBox.x + 98;
              const y = viewBox.y + viewBox.height / 2;
              return (
                <text x={x} y={y} transform={`rotate(-90 ${x} ${y})`} textAnchor="middle" fontSize={26} fontFamily={fontFamily}>
                  6D separation (<tspan fontStyle="italic">σ</tspan>)
                </text>
              );
            }}
          />
        </YAxis>
        <ReferenceArea x1={0} x2={1} y1={50} y2={350} fill="url(#sepGradient)" fillOpacity={1} stroke="#000" strokeWidth={1.7} ifOverflow="visible" />
        <Scatter data={sepRange} shape={() => <g />} isAnimationActive={false} />
      </ScatterChart>
    </div>
  );
}

export default function App() {
  return (
    <div style={{ position: "absolute", left: 0, top: 0, width: 1200, height: 879, background: "#fff", overflow: "hidden" }}>
      <svg width={0} height={0} style={{ position: "absolute" }}>
        <defs>
          <filter id="soften" x="-60%" y="-60%" width="220%" height="220%">
            <feGaussianBlur stdDeviation={1} />
          </filter>
        </defs>
      </svg>
      <Panel title="mod255" left={144.5} top={43} core={mod255Core} stars={mod255Stars} labelled />
      <Panel title="mod276" left={511.8} top={43} core={mod276Core} stars={mod276Stars} labelled={false} />
      <Panel title="mod288" left={879.5} top={43} core={mod288Core} stars={mod288Stars} labelled={false} />
      <Panel title="mod290" left={144.5} top={487} core={mod290Core} stars={mod290Stars} labelled />
      <Panel title="mod314" left={511.8} top={487} core={mod314Core} stars={mod314Stars} labelled={false} />
      <SepColorbar />
    </div>
  );
}
